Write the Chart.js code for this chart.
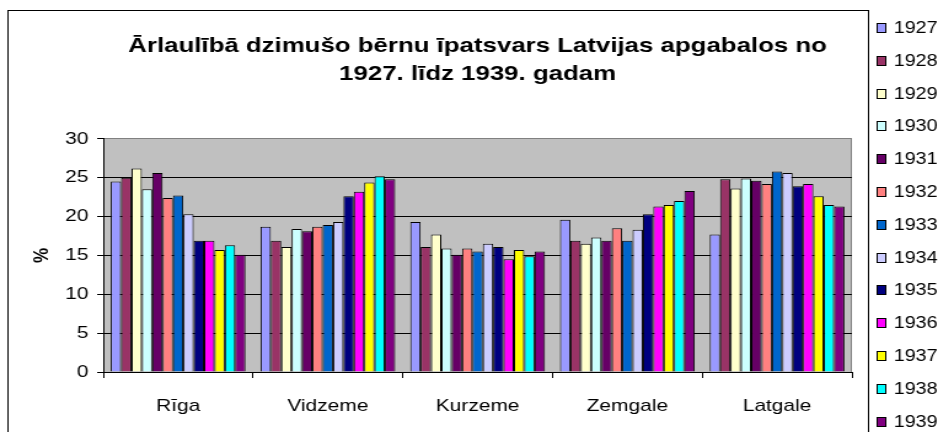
<!DOCTYPE html>
<html>
<head>
<meta charset="utf-8">
<script src="https://cdn.jsdelivr.net/npm/chart.js@4"></script>
<style>
  html, body { margin: 0; padding: 0; background: #fff; }
  #wrap { width: 938px; height: 432px; }
</style>
</head>
<body>
<div id="wrap">
  <!-- the original picture is stretched sideways, so draw narrow and widen with css -->
  <canvas id="myChart" width="763" height="432" style="width:938px;height:432px;display:block"></canvas>
</div>
<script>
const regions = ['Rīga', 'Vidzeme', 'Kurzeme', 'Zemgale', 'Latgale']
const years = ['1927', '1928', '1929', '1930', '1931', '1932', '1933', '1934', '1935', '1936', '1937', '1938', '1939']

// % per region, one array per year
const v1927 = [24.5, 18.7, 19.3, 19.6, 17.7]
const v1928 = [25.0, 16.9, 16.1, 16.9, 24.8]
const v1929 = [26.2, 16.1, 17.7, 16.5, 23.6]
const v1930 = [23.5, 18.4, 15.9, 17.3, 24.9]
const v1931 = [25.6, 18.1, 15.1, 16.9, 24.6]
const v1932 = [22.4, 18.7, 15.9, 18.5, 24.2]
const v1933 = [22.7, 18.9, 15.5, 16.9, 25.8]
const v1934 = [20.3, 19.3, 16.5, 18.3, 25.6]
const v1935 = [16.9, 22.6, 16.1, 20.3, 23.9]
const v1936 = [16.9, 23.2, 14.5, 21.3, 24.2]
const v1937 = [15.7, 24.4, 15.7, 21.5, 22.6]
const v1938 = [16.3, 25.2, 14.9, 22.0, 21.5]
const v1939 = [15.1, 24.8, 15.5, 23.3, 21.3]
const values = [v1927, v1928, v1929, v1930, v1931, v1932, v1933, v1934, v1935, v1936, v1937, v1938, v1939]

const yTicks = [0, 5, 10, 15, 20, 25, 30]

const colors = ['#9999FF', '#993366', '#FFFFCC', '#CCFFFF', '#660066', '#FF8080', '#0066CC',
    '#CCCCFF', '#000080', '#FF00FF', '#FFFF00', '#00FFFF', '#800080']

const FONT = "'Liberation Sans', Arial, sans-serif"
Chart.defaults.font.family = FONT
Chart.defaults.color = '#000'

const canvas = document.getElementById('myChart')

// white background, outer frame, grey plot area
const frame = {
    id: 'frame',
    beforeDraw(chart) {
        const { ctx, chartArea: a } = chart
        ctx.save()
        ctx.fillStyle = '#fff'
        ctx.fillRect(0, 0, chart.width, chart.height)
        ctx.strokeStyle = '#000'
        ctx.lineWidth = 1
        ctx.strokeRect(6.5, 10.5, 700, 500)
        ctx.fillStyle = '#C0C0C0'
        ctx.fillRect(a.left, a.top, a.right - a.left, a.bottom - a.top)
        ctx.strokeStyle = '#808080'
        ctx.beginPath()
        ctx.moveTo(Math.round(a.right) - 0.5, a.top)
        ctx.lineTo(Math.round(a.right) - 0.5, a.bottom)
        ctx.stroke()
        ctx.restore()
    }
}

// legend column on the right, from the datasets
const sideLegend = {
    id: 'sideLegend',
    afterDraw(chart) {
        const ctx = chart.ctx
        ctx.save()
        ctx.font = '16px ' + FONT
        ctx.textBaseline = 'middle'
        ctx.textAlign = 'left'
        chart.data.datasets.forEach((ds, i) => {
            const y = Math.round(28 + i * 32.8)
            ctx.fillStyle = ds.backgroundColor
            ctx.fillRect(713, y - 5, 8, 10)
            ctx.strokeStyle = '#000'
            ctx.strokeRect(713.5, y - 4.5, 7, 9)
            ctx.fillStyle = '#000'
            ctx.fillText(ds.label, 727, y + 1)
        })
        ctx.restore()
    }
}

const config = {
    type: 'bar',
    data: {
        labels: regions,
        datasets: years.map((yr, i) => ({
            label: yr,
            data: values[i],
            backgroundColor: colors[i],
            borderColor: '#000',
            borderWidth: 1,
            barPercentage: 1.0,
            categoryPercentage: 0.9
        }))
    },
    options: {
        responsive: false,
        animation: false,
        devicePixelRatio: 1,
        layout: {
            padding: { top: 0, left: 0, right: 70, bottom: 15 }
        },
        plugins: {
            legend: { display: false },
            tooltip: { enabled: false },
            title: {
                display: true,
                fullSize: false,
                text: ['Ārlaulībā dzimušo bērnu īpatsvars Latvijas apgabalos no', '1927. līdz 1939. gadam'],
                color: '#000',
                font: { size: 21, weight: 'bold', lineHeight: 1.33 },
                padding: { top: 32, bottom: 51 }
            }
        },
        scales: {
            x: {
                grid: { display: true, drawOnChartArea: false, offset: true, tickLength: 6, color: '#000' },
                border: { color: '#000' },
                ticks: { color: '#000', font: { size: 17 }, padding: 18 },
                afterFit(scale) { scale.height = 45 }
            },
            y: {
                min: 0,
                max: 30,
                afterBuildTicks(scale) {
                    scale.ticks = yTicks.map(v => ({ value: v }))
                },
                grid: {
                    color: c => (c.tick && c.tick.value === 30) ? '#808080' : '#000',
                    tickColor: '#000',
                    tickLength: 5
                },
                border: { color: '#000' },
                ticks: { color: '#000', font: { size: 17 }, padding: 7 },
                title: {
                    display: true,
                    text: '%',
                    color: '#000',
                    font: { size: 17, weight: 'bold' },
                    padding: { top: 24, bottom: 4 }
                },
                afterFit(scale) { scale.width = 84 }
            }
        }
    },
    plugins: [frame, sideLegend]
}

const myChart = new Chart(canvas, config)
</script>
</body>
</html>
